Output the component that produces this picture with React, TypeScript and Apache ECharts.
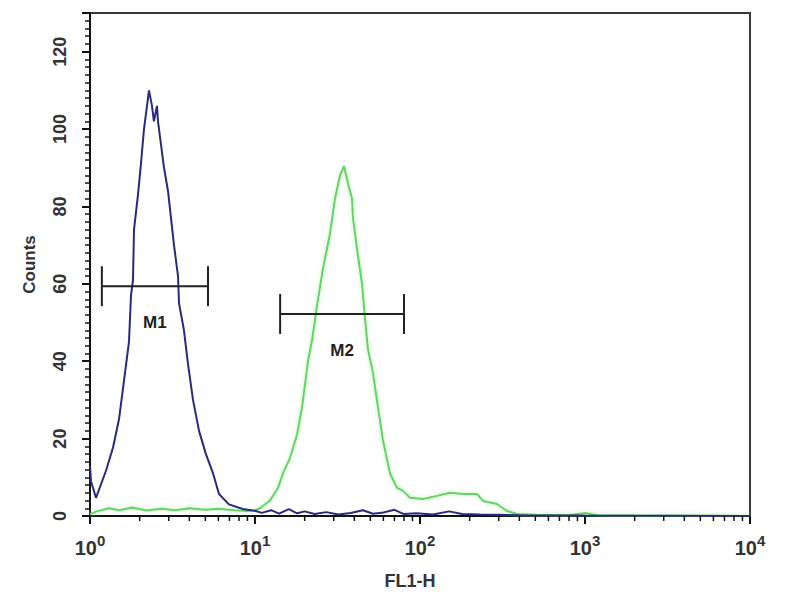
import React, { useEffect, useRef } from "react";
import * as echarts from "echarts";

// Blue histogram (control)
const blueX = [1.0, 1.014, 1.087, 1.25, 1.379, 1.499, 1.607, 1.723, 1.772, 1.822, 1.848, 1.953, 2.036, 2.124, 2.247, 2.277, 2.375, 2.44, 2.547, 2.583, 2.694, 2.809, 2.97, 3.097, 3.229, 3.415, 3.463, 3.71, 3.92, 4.21, 4.58, 5.04, 5.57, 6.05, 6.95, 8.44, 10.1, 11, 12.5, 14, 16, 18, 20, 23, 27, 32, 38, 45, 52, 60, 70, 80, 95, 120, 150, 180, 230, 300, 400, 1000, 10000];
const blueCounts = [13, 9, 4.7, 11.7, 17.7, 25, 35, 45, 57, 61, 74, 83, 91, 100, 108, 110, 106, 102, 106, 102, 96, 90, 84, 77, 70, 62, 55, 48, 39.5, 30, 22, 16, 11, 5.7, 3, 1.8, 1.3, 0.8, 1.5, 0.6, 1.8, 0.7, 1.2, 0.5, 1.0, 0.4, 0.8, 1.5, 0.6, 0.9, 1.6, 0.5, 0.7, 0.4, 1.2, 0.5, 0.4, 0.3, 0.2, 0.1, 0];

// Green histogram (stained)
const greenX = [1.0, 1.1, 1.3, 1.5, 1.8, 2.2, 2.7, 3.3, 4, 5, 6, 7.5, 9, 10, 10.72, 12.33, 13.79, 14.78, 16.3, 17.97, 19.27, 20.09, 20.96, 22.16, 24.09, 25.83, 28.48, 30.53, 32.74, 34.62, 36.6, 38.71, 39.26, 41.52, 44.52, 46.42, 48.41, 51.9, 55.66, 59.68, 65.79, 72.54, 78.88, 86.98, 104.3, 126.8, 152, 182.2, 221.5, 240.9, 292.9, 336.8, 387.2, 500, 800, 1000, 1200, 2000, 10000];
const greenCounts = [0.5, 1.2, 2, 1.5, 2.2, 1.4, 1.9, 1.5, 2, 1.6, 1.9, 1.5, 1.3, 1.5, 2, 4, 7.3, 11, 15, 21, 28, 34, 40, 45.5, 56, 64, 73, 82, 88, 90.4, 86, 82, 77, 69, 60, 51, 43, 37, 28, 19.5, 11, 7.3, 6.5, 4.7, 4.4, 5.2, 6, 5.7, 5.7, 3.9, 3.1, 1.3, 0.5, 0.3, 0.2, 0.8, 0.2, 0.1, 0];

// Marker gates
const markerNames = ["M1", "M2"];
const markerStart = [1.18, 14.2];
const markerEnd = [5.19, 80];
const markerLevel = [59.4, 52.2];

// Axis ticks
const xMinorTicks: number[] = [];
for (let d = 0; d < 4; d++) {
  for (let m = 2; m <= 9; m++) xMinorTicks.push(m * Math.pow(10, d));
}

const FONT = "Liberation Sans";

export default function App() {
  const ref = useRef<HTMLDivElement>(null);
  useEffect(() => {
    if (!ref.current) return;
    const chart = echarts.init(ref.current, null, { renderer: "svg" });
    const blueData = blueX.map((x, i) => [x, blueCounts[i]]);
    const greenData = greenX.map((x, i) => [x, greenCounts[i]]);
    const markerData = markerNames.map((n, i) => [markerStart[i], markerEnd[i], markerLevel[i], n]);
    const minorData = xMinorTicks.map((v) => [v, 0]);

    chart.setOption({
      animation: false,
      backgroundColor: "#ffffff",
      grid: {
        left: 90,
        right: 50,
        top: 13,
        bottom: 84,
        show: true,
        borderColor: "#3a3a3a",
        borderWidth: 2,
        backgroundColor: "transparent",
      },
      xAxis: {
        type: "log",
        logBase: 10,
        min: 1,
        max: 10000,
        name: "FL1-H",
        nameLocation: "middle",
        nameGap: 56,
        nameTextStyle: { fontFamily: FONT, fontSize: 18, fontWeight: "bold", color: "#333", padding: [0, 20, 0, 0] },
        axisLine: { show: true, lineStyle: { color: "#111", width: 2 } },
        axisTick: { show: true, inside: false, length: 8, lineStyle: { color: "#111", width: 2 } },
        splitLine: { show: false },
        axisLabel: {
          margin: 17,
          formatter: (v: number) => `{b|10}{s|${Math.round(Math.log10(v))}}`,
          rich: {
            b: { fontFamily: FONT, fontSize: 20, color: "#333", fontWeight: "bold" },
            s: { fontFamily: FONT, fontSize: 15, color: "#333", fontWeight: "bold", padding: [0, 0, 14, 0] },
          },
        },
      },
      yAxis: {
        type: "value",
        min: 0,
        max: 130,
        interval: 20,
        name: "Counts",
        nameLocation: "middle",
        nameGap: 52,
        nameTextStyle: { fontFamily: FONT, fontSize: 17, fontWeight: "bold", color: "#333" },
        axisLine: { show: true, lineStyle: { color: "#111", width: 2 } },
        axisTick: { show: true, inside: false, length: 8, lineStyle: { color: "#111", width: 2 } },
        minorTick: { show: true, splitNumber: 10, length: 5, lineStyle: { color: "#111", width: 1.5 } },
        splitLine: { show: false },
        axisLabel: {
          rotate: 90,
          margin: 21,
          showMaxLabel: false,
          fontFamily: FONT,
          fontSize: 18,
          fontWeight: "bold",
          color: "#333",
          formatter: (v: number) => (v > 120 ? "" : String(v)),
        },
      },
      series: [
        {
          type: "line",
          name: "stained",
          data: greenData,
          symbol: "none",
          z: 3,
          lineStyle: { color: "#62d462", width: 2, shadowColor: "#b9efb9", shadowBlur: 4 },
        },
        {
          type: "line",
          name: "control",
          data: blueData,
          symbol: "none",
          z: 4,
          lineStyle: { color: "#29297e", width: 2 },
        },
        {
          type: "custom",
          name: "minorTicks",
          data: minorData,
          clip: false,
          z: 5,
          renderItem: (params: any, api: any) => {
            const p = api.coord([api.value(0), 0]);
            return {
              type: "line",
              shape: { x1: p[0], y1: p[1], x2: p[0], y2: p[1] + 5 },
              style: { stroke: "#111", lineWidth: 1.5 },
            };
          },
        },
        {
          type: "custom",
          name: "markers",
          data: markerData,
          z: 6,
          renderItem: (params: any, api: any) => {
            const a = api.coord([api.value(0), api.value(2)]);
            const b = api.coord([api.value(1), api.value(2)]);
            const label = markerNames[params.dataIndex];
            const h = 20;
            return {
              type: "group",
              children: [
                { type: "line", shape: { x1: a[0], y1: a[1], x2: b[0], y2: b[1] }, style: { stroke: "#222", lineWidth: 2 } },
                { type: "line", shape: { x1: a[0], y1: a[1] - h, x2: a[0], y2: a[1] + h }, style: { stroke: "#222", lineWidth: 2 } },
                { type: "line", shape: { x1: b[0], y1: b[1] - h, x2: b[0], y2: b[1] + h }, style: { stroke: "#222", lineWidth: 2 } },
                {
                  type: "text",
                  x: (a[0] + b[0]) / 2,
                  y: a[1] + 36,
                  style: {
                    text: label,
                    fill: "#222",
                    font: `bold 17px "${FONT}"`,
                    textAlign: "center",
                    textVerticalAlign: "middle",
                  },
                },
              ],
            };
          },
        },
      ],
    });
    return () => chart.dispose();
  }, []);
  return <div ref={ref} style={{ width: 800, height: 600, position: "absolute", left: 0, top: 0 }} />;
}
